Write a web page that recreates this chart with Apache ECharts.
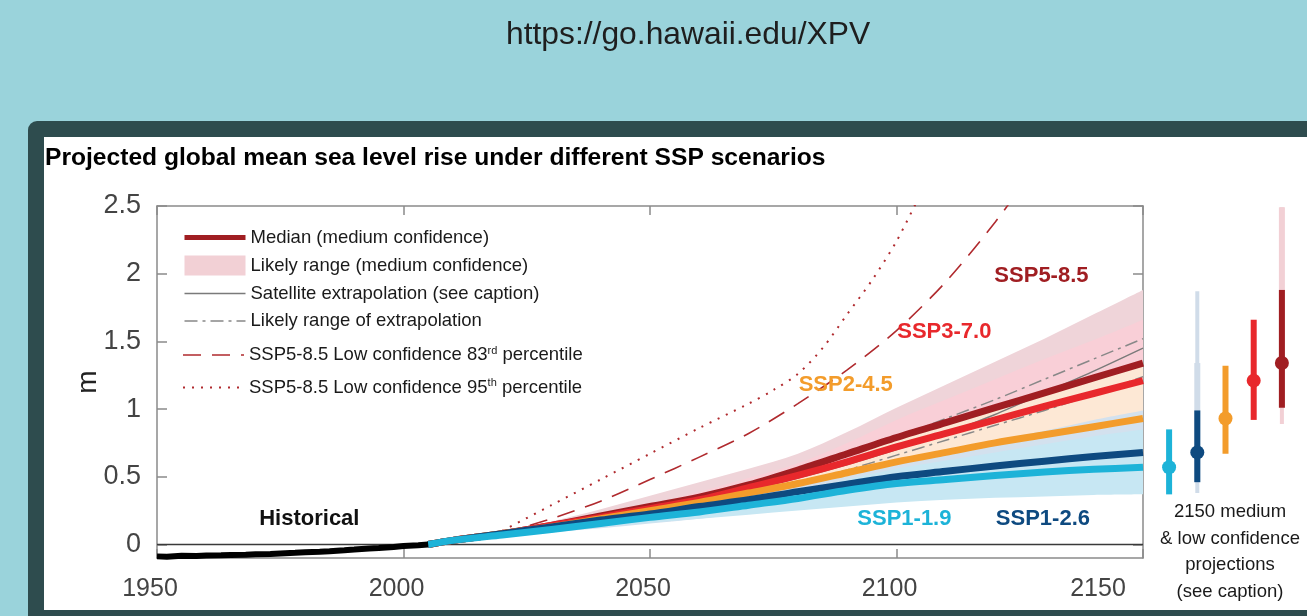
<!DOCTYPE html>
<html>
<head>
<meta charset="utf-8">
<script src="https://cdn.jsdelivr.net/npm/echarts@6/dist/echarts.min.js"></script>
<style>
html,body{margin:0;padding:0;width:1307px;height:616px;overflow:hidden;background:#9ad3db;}
#panel{position:absolute;left:28px;top:121px;width:1300px;height:520px;background:#2e4c4e;border-radius:9px 0 0 0;}
#white{position:absolute;left:44px;top:137px;width:1280px;height:473px;background:#ffffff;}
#chart{position:absolute;left:0;top:0;width:1307px;height:616px;}
</style>
</head>
<body>
<div id="panel"></div>
<div id="white"></div>
<div id="chart"></div>
<script>
// ---------------- data ----------------
const xTicks = [1950, 2000, 2050, 2100, 2150];
const yTicks = [0, 0.5, 1, 1.5, 2, 2.5];

const histYears = [1950,1952,1955,1958,1960,1963,1965,1968,1970,1973,1975,1978,1980,1983,1985,1988,1990,1993,1995,1998,2000,2003,2005];
const histValues = [-0.088,-0.090,-0.083,-0.085,-0.082,-0.080,-0.078,-0.076,-0.072,-0.070,-0.066,-0.062,-0.058,-0.054,-0.050,-0.043,-0.038,-0.030,-0.026,-0.018,-0.012,-0.005,0.0];

const projYears = [2005,2010,2020,2030,2040,2050,2060,2070,2080,2090,2100,2110,2120,2130,2140,2150];
const ssp585Median = [0.0,0.03,0.08,0.14,0.21,0.28,0.35,0.44,0.55,0.67,0.79,0.90,1.01,1.12,1.23,1.34];
const ssp370Median = [0.0,0.03,0.08,0.14,0.20,0.265,0.33,0.42,0.51,0.61,0.72,0.82,0.92,1.02,1.115,1.21];
const ssp245Median = [0.0,0.03,0.08,0.13,0.19,0.25,0.31,0.38,0.45,0.53,0.61,0.68,0.75,0.81,0.87,0.93];
const ssp126Median = [0.0,0.03,0.08,0.13,0.18,0.225,0.28,0.33,0.39,0.445,0.50,0.54,0.58,0.615,0.65,0.68];
const ssp119Median = [0.0,0.03,0.07,0.11,0.155,0.20,0.24,0.29,0.34,0.40,0.45,0.48,0.51,0.535,0.555,0.57];

const ssp585Low  = [0.0,0.025,0.065,0.10,0.15,0.20,0.26,0.33,0.41,0.51,0.62,0.70,0.78,0.86,0.94,1.01];
const ssp585High = [0.0,0.035,0.10,0.17,0.26,0.36,0.46,0.56,0.67,0.83,1.01,1.18,1.35,1.52,1.70,1.88];
const ssp370Low  = [0.0,0.025,0.065,0.10,0.14,0.19,0.24,0.30,0.37,0.46,0.55,0.63,0.70,0.78,0.85,0.92];
const ssp370High = [0.0,0.033,0.09,0.15,0.22,0.30,0.39,0.49,0.60,0.75,0.92,1.07,1.22,1.37,1.51,1.66];
const ssp245Low  = [0.0,0.025,0.06,0.095,0.13,0.17,0.21,0.26,0.31,0.38,0.45,0.50,0.55,0.60,0.64,0.67];
const ssp245High = [0.0,0.032,0.085,0.14,0.20,0.27,0.34,0.42,0.51,0.63,0.78,0.89,1.00,1.11,1.21,1.32];
const ssp126Low  = [0.0,0.025,0.06,0.09,0.12,0.155,0.19,0.23,0.27,0.31,0.34,0.37,0.40,0.42,0.44,0.46];
const ssp126High = [0.0,0.032,0.085,0.14,0.19,0.25,0.31,0.37,0.44,0.53,0.63,0.70,0.77,0.84,0.92,0.99];
const ssp119Low  = [0.0,0.025,0.06,0.09,0.13,0.16,0.19,0.22,0.25,0.28,0.31,0.33,0.345,0.355,0.365,0.37];
const ssp119High = [0.0,0.03,0.08,0.13,0.18,0.23,0.29,0.34,0.40,0.48,0.56,0.62,0.68,0.74,0.80,0.85];

const satelliteExtrap = [0.0,0.03,0.08,0.13,0.19,0.25,0.32,0.40,0.49,0.59,0.70,0.82,0.96,1.12,1.28,1.45];
const extrapHigh      = [0.0,0.035,0.09,0.14,0.20,0.27,0.35,0.44,0.54,0.66,0.79,0.93,1.07,1.22,1.37,1.52];
const extrapLow       = [0.0,0.025,0.07,0.11,0.16,0.22,0.28,0.36,0.45,0.55,0.66,0.77,0.88,0.99,1.11,1.24];

const p83Years = [2020,2030,2040,2050,2060,2070,2080,2090,2100,2110,2120,2130];
const p83Values = [0.08,0.19,0.32,0.48,0.645,0.82,1.04,1.29,1.58,1.94,2.38,2.88];
const p95Years = [2020,2030,2040,2050,2060,2070,2075,2080,2085,2090,2095,2100,2105];
const p95Values = [0.10,0.29,0.48,0.67,0.86,1.04,1.14,1.26,1.45,1.70,1.95,2.24,2.60];

// 2150 projections (right panel)
const scenarios = ['SSP1-1.9','SSP1-2.6','SSP2-4.5','SSP3-7.0','SSP5-8.5'];
const median2150 = [0.57, 0.68, 0.93, 1.21, 1.34];
const likelyLow2150 = [0.37, 0.46, 0.67, 0.92, 1.01];
const likelyHigh2150 = [0.85, 0.99, 1.32, 1.66, 1.88];
const lowConfLow2150 = [null, 0.46, null, null, 1.01];
const lowConfHigh2150 = [null, 1.34, null, null, 2.49];
const lowConfWideLow2150 = [null, 0.38, null, null, 0.89];
const lowConfWideHigh2150 = [null, 1.87, null, null, 2.49];

// in-plot annotations (data coordinates)
const annoText = ['SSP5-8.5','SSP3-7.0','SSP2-4.5','SSP1-1.9','SSP1-2.6','Historical'];
const annoYear = [2129.4, 2109.7, 2089.7, 2101.6, 2129.7, 1980.9];
const annoValue = [1.985, 1.57, 1.18, 0.19, 0.19, 0.19];

// ---------------- styles ----------------
const FONT = "'Liberation Sans', Arial, Helvetica, sans-serif";
const C = {
  s585: '#a01e22', s370: '#e8282c', s245: '#f39c2b', s126: '#0e4a80', s119: '#1db3d8',
  b585: '#efd4d9', b370: '#f9cfd7', b245: '#fde8d5', b126: '#d3e1ee', b119: '#c7e7f3',
  lightRed: '#f2d0d5', lightBlue: '#d0dce9', axis: '#8a8a8a'
};
const scenColors = [C.s119, C.s126, C.s245, C.s370, C.s585];
const lightColors = [C.lightBlue, C.lightBlue, C.lightBlue, C.lightRed, C.lightRed];
const annoColors = [C.s585, C.s370, C.s245, C.s119, C.s126, '#111111'];
const SMOOTH = 0.3;

function pairs(xs, ys) { return xs.map((x, i) => [x, ys[i]]); }

// smooth path through screen points (Catmull-Rom as cubic Bezier)
function curveTo(pts) {
  let d = '';
  const n = pts.length, k = 1 / 6;
  for (let i = 0; i < n - 1; i++) {
    const p0 = pts[Math.max(i - 1, 0)], p1 = pts[i], p2 = pts[i + 1], p3 = pts[Math.min(i + 2, n - 1)];
    const c1 = [p1[0] + (p2[0] - p0[0]) * k, p1[1] + (p2[1] - p0[1]) * k];
    const c2 = [p2[0] - (p3[0] - p1[0]) * k, p2[1] - (p3[1] - p1[1]) * k];
    d += ' C' + c1[0] + ',' + c1[1] + ' ' + c2[0] + ',' + c2[1] + ' ' + p2[0] + ',' + p2[1];
  }
  return d;
}
function band(lo, hi, color) {
  return {
    type: 'custom', silent: true, z: 1, clip: true, data: [[2100, 1]],
    renderItem: function (params, api) {
      const up = projYears.map((y, i) => api.coord([y, hi[i]]));
      const dn = projYears.map((y, i) => api.coord([y, lo[i]])).reverse();
      const d = 'M' + up[0][0] + ',' + up[0][1] + curveTo(up) +
                ' L' + dn[0][0] + ',' + dn[0][1] + curveTo(dn) + ' Z';
      return {type: 'path', shape: {pathData: d}, style: {fill: color}};
    }
  };
}
function median(vals, color) {
  return {type: 'line', data: pairs(projYears, vals), symbol: 'none', silent: true, smooth: SMOOTH,
          lineStyle: {color: color, width: 7, join: 'round'}, z: 5};
}
function whisker(lows, highs, width, colors, z) {
  const d = [];
  lows.forEach((l, i) => { if (l != null) d.push([i, l, highs[i]]); });
  return {
    type: 'custom', xAxisIndex: 2, yAxisIndex: 2, z: z, silent: true, data: d,
    renderItem: function (params, api) {
      const i = api.value(0);
      const top = api.coord([i, api.value(2)]);
      const bot = api.coord([i, api.value(1)]);
      return {type: 'rect', shape: {x: top[0] - width / 2, y: top[1], width: width, height: bot[1] - top[1]},
              style: {fill: colors[i]}};
    }
  };
}

const series = [];
series.push(band(ssp585Low, ssp585High, C.b585));
series.push(band(ssp370Low, ssp370High, C.b370));
series.push(band(ssp245Low, ssp245High, C.b245));
series.push(band(ssp126Low, ssp126High, C.b126));
series.push(band(ssp119Low, ssp119High, C.b119));

// legend-only entries
series.push({type: 'line', name: 'Median (medium confidence)', data: [], symbol: 'none',
             lineStyle: {color: C.s585, width: 5}, itemStyle: {color: C.s585}});
series.push({type: 'line', name: 'Likely range (medium confidence)', data: [], symbol: 'none', legendIcon: 'rect',
             lineStyle: {color: C.lightRed, width: 0}, itemStyle: {color: C.lightRed}});

series.push({type: 'line', name: 'Likely range of extrapolation', data: pairs(projYears, extrapHigh), symbol: 'none', silent: true, smooth: SMOOTH,
             lineStyle: {color: '#888888', width: 1.5, type: [13, 5, 3, 5]}, itemStyle: {color: '#888888'}, z: 3});
series.push({type: 'line', name: 'Likely range of extrapolation', data: pairs(projYears, extrapLow), symbol: 'none', silent: true, smooth: SMOOTH,
             lineStyle: {color: '#888888', width: 1.5, type: [13, 5, 3, 5]}, itemStyle: {color: '#888888'}, z: 3});
series.push({type: 'line', name: 'Satellite extrapolation (see caption)', data: pairs(projYears, satelliteExtrap), symbol: 'none', silent: true, smooth: SMOOTH,
             lineStyle: {color: '#7a7a7a', width: 1.4}, itemStyle: {color: '#7a7a7a'}, z: 3});
series.push({type: 'line', name: 'SSP5-8.5 Low confidence 83rd percentile', data: pairs(p83Years, p83Values), symbol: 'none', silent: true, smooth: SMOOTH,
             lineStyle: {color: '#b02a2e', width: 1.6, type: [18, 11]}, itemStyle: {color: '#b02a2e'}, z: 3});
series.push({type: 'line', name: 'SSP5-8.5 Low confidence 95th percentile', data: pairs(p95Years, p95Values), symbol: 'none', silent: true, smooth: SMOOTH,
             lineStyle: {color: '#b02a2e', width: 2, type: [2, 7]}, itemStyle: {color: '#b02a2e'}, z: 3});

series.push(median(ssp585Median, C.s585));
series.push(median(ssp370Median, C.s370));
series.push(median(ssp245Median, C.s245));
series.push(median(ssp126Median, C.s126));
series.push(median(ssp119Median, C.s119));

series.push({type: 'line', data: pairs(histYears, histValues), symbol: 'none', silent: true,
             lineStyle: {color: '#000000', width: 6}, z: 6,
             markLine: {silent: true, symbol: 'none', label: {show: false}, animation: false,
                        lineStyle: {color: '#3a3a3a', width: 1.3, type: 'solid'}, data: [{yAxis: 0}]}});

series.push({type: 'scatter', silent: true, symbolSize: 1, itemStyle: {color: 'rgba(0,0,0,0)', opacity: 1}, z: 8,
             data: annoText.map((t, i) => ({name: t, value: [annoYear[i], annoValue[i]],
                     label: {color: annoColors[i]}})),
             label: {show: true, position: 'inside', formatter: p => p.name, opacity: 1,
                     fontFamily: FONT, fontWeight: 'bold', fontSize: 22}});

// right panel: 2150 projections
series.push(whisker(lowConfWideLow2150, lowConfWideHigh2150, 4, lightColors, 2));
series.push(whisker(lowConfLow2150, lowConfHigh2150, 6, lightColors, 3));
series.push(whisker(likelyLow2150, likelyHigh2150, 6, scenColors, 4));
series.push({type: 'scatter', xAxisIndex: 2, yAxisIndex: 2, silent: true, symbolSize: 14, z: 5,
             data: median2150.map((v, i) => ({value: [i, v], itemStyle: {color: scenColors[i], opacity: 1}}))});

const supFmt = name => name.replace(/(\d+)(rd|th)/, '$1{sup|$2}');
const legendText = {fontFamily: FONT, fontSize: 18.5, color: '#1a1a1a',
                    rich: {sup: {fontFamily: FONT, fontSize: 11, color: '#1a1a1a', verticalAlign: 'top', padding: [0, 0, 9, 0]}}};
const hideSym = {opacity: 0, borderWidth: 0};
const axisLabelPad = [0, 14, 0, 0];

const option = {
  animation: false,
  backgroundColor: 'transparent',
  title: [
    {text: 'https://go.hawaii.edu/XPV', left: 506, top: 19, padding: 0,
     textStyle: {fontFamily: FONT, fontSize: 31.8, fontWeight: 'normal', color: '#1e1e1e'}},
    {text: 'Projected global mean sea level rise under different SSP scenarios', left: 45, top: 146, padding: 0,
     textStyle: {fontFamily: FONT, fontSize: 24.6, fontWeight: 'bold', color: '#000000'}}
  ],
  legend: [
    {orient: 'vertical', left: 182, top: 228, itemWidth: 61, itemHeight: 20, itemGap: 8.5, padding: 0,
     selectedMode: false, textStyle: legendText,
     data: [
       {name: 'Median (medium confidence)', lineStyle: {width: 5}, itemStyle: hideSym},
       {name: 'Likely range (medium confidence)', icon: 'rect', itemStyle: {color: C.lightRed, opacity: 1}},
       {name: 'Satellite extrapolation (see caption)', lineStyle: {width: 1.4}, itemStyle: hideSym},
       {name: 'Likely range of extrapolation', lineStyle: {width: 1.5}, itemStyle: hideSym}
     ]},
    {orient: 'vertical', left: 182, top: 345, itemWidth: 61, itemHeight: 20, itemGap: 13, padding: 0,
     selectedMode: false, textStyle: legendText, formatter: supFmt,
     data: [
       {name: 'SSP5-8.5 Low confidence 83rd percentile', lineStyle: {width: 1.6}, itemStyle: hideSym},
       {name: 'SSP5-8.5 Low confidence 95th percentile', lineStyle: {width: 2}, itemStyle: hideSym}
     ]}
  ],
  grid: [
    {left: 157, right: 164, top: 206, bottom: 58, outerBoundsMode: 'none', containLabel: false},
    {left: 1155, width: 141, top: 206, bottom: 58, outerBoundsMode: 'none', containLabel: false}
  ],
  xAxis: [
    {type: 'value', gridIndex: 0, min: 1950, max: 2150, position: 'bottom',
     axisLine: {show: true, onZero: false, lineStyle: {color: C.axis, width: 1.5}},
     axisTick: {show: true, inside: true, length: 9, customValues: xTicks, lineStyle: {color: C.axis, width: 1.5}},
     axisLabel: {show: true, margin: 19, customValues: xTicks, fontFamily: FONT, fontSize: 25, color: '#444444',
                 formatter: v => (v === 2150 ? '{last|' + v + '}' : '{n|' + v + '}'),
                 rich: {n: {fontFamily: FONT, fontSize: 25, color: '#444444', padding: axisLabelPad},
                        last: {fontFamily: FONT, fontSize: 25, color: '#444444', padding: [0, 90, 0, 0]}}},
     splitLine: {show: false}},
    {type: 'value', gridIndex: 0, min: 1950, max: 2150, position: 'top',
     axisLine: {show: true, onZero: false, lineStyle: {color: C.axis, width: 1.5}},
     axisTick: {show: true, inside: true, length: 9, customValues: xTicks, lineStyle: {color: C.axis, width: 1.5}},
     axisLabel: {show: false}, splitLine: {show: false}},
    {type: 'category', gridIndex: 1, data: scenarios, show: false}
  ],
  yAxis: [
    {type: 'value', gridIndex: 0, min: -0.1, max: 2.5, position: 'left',
     name: 'm', nameLocation: 'middle', nameRotate: 90, nameGap: 55, nameMoveOverlap: false,
     nameTextStyle: {fontFamily: FONT, fontSize: 28, color: '#222222'},
     axisLine: {show: true, onZero: false, lineStyle: {color: C.axis, width: 1.5}},
     axisTick: {show: true, inside: true, length: 10, customValues: yTicks, lineStyle: {color: C.axis, width: 1.5}},
     axisLabel: {show: true, margin: 16, customValues: yTicks, fontFamily: FONT, fontSize: 27, color: '#444444'},
     splitLine: {show: false}},
    {type: 'value', gridIndex: 0, min: -0.1, max: 2.5, position: 'right',
     axisLine: {show: true, onZero: false, lineStyle: {color: C.axis, width: 1.5}},
     axisTick: {show: true, inside: true, length: 10, customValues: yTicks, lineStyle: {color: C.axis, width: 1.5}},
     axisLabel: {show: false}, splitLine: {show: false}},
    {type: 'value', gridIndex: 1, min: -0.1, max: 2.5, show: false, splitLine: {show: false}}
  ],
  graphic: [
    {type: 'text', x: 1230, y: 499, silent: true,
     style: {text: '2150 medium\n& low confidence\nprojections\n(see caption)', align: 'center', verticalAlign: 'top',
             fontFamily: FONT, fontSize: 18.5, lineHeight: 26.5, fill: '#1a1a1a'}}
  ],
  series: series
};

const chart = echarts.init(document.getElementById('chart'), null, {renderer: 'canvas'});
chart.setOption(option);
</script>
</body>
</html>
